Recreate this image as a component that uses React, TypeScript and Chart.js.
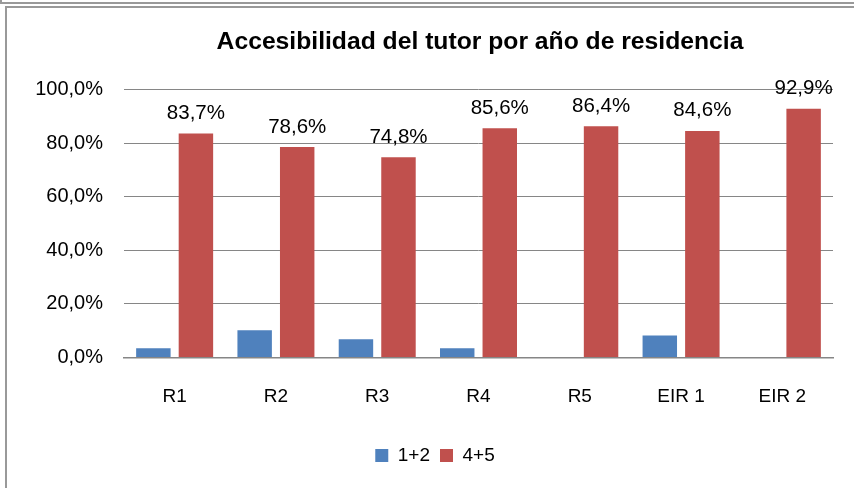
import React, { useEffect, useRef } from "react";
import { Chart, registerables } from "chart.js";

Chart.register(...registerables);

const categories = ["R1", "R2", "R3", "R4", "R5", "EIR 1", "EIR 2"];
const seriesNames = ["1+2", "4+5"];
const seriesLow = [3.5, 10.2, 6.8, 3.5, 0, 8.2, 0];
const seriesHigh = [83.7, 78.6, 74.8, 85.6, 86.4, 84.6, 92.9];
const yTicks = [0, 20, 40, 60, 80, 100];
const titleText = "Accesibilidad del tutor por año de residencia";

const FONT = "'Liberation Sans', Arial, sans-serif";
const fmt = (v: number) => v.toFixed(1).replace(".", ",") + "%";

const dataLabelPlugin = {
  id: "dataLabels",
  afterDatasetsDraw(chart: any) {
    const ctx = chart.ctx;
    const meta = chart.getDatasetMeta(1);
    ctx.save();
    ctx.font = `20.5px ${FONT}`;
    ctx.fillStyle = "#000000";
    ctx.textAlign = "center";
    ctx.textBaseline = "alphabetic";
    meta.data.forEach((bar: any, i: number) => {
      ctx.fillText(fmt(seriesHigh[i]), bar.x, bar.y - 14.5);
    });
    ctx.restore();
  },
};

const boxShiftPlugin = {
  id: "boxShift",
  afterLayout(chart: any) {
    const t = chart.titleBlock;
    if (t) {
      t.left += 60;
      t.right += 60;
    }
    const l = chart.legend;
    if (l) {
      l.left += 15;
      l.right += 15;
    }
  },
};

export default function App() {
  const ref = useRef<HTMLCanvasElement | null>(null);

  useEffect(() => {
    if (!ref.current) return;
    const chart = new Chart(ref.current, {
      type: "bar",
      data: {
        labels: categories,
        datasets: [
          {
            label: seriesNames[0],
            data: seriesLow,
            backgroundColor: "#4F81BD",
            categoryPercentage: 0.84,
            barPercentage: 0.81,
          },
          {
            label: seriesNames[1],
            data: seriesHigh,
            backgroundColor: "#C0504D",
            categoryPercentage: 0.84,
            barPercentage: 0.81,
          },
        ],
      },
      plugins: [dataLabelPlugin, boxShiftPlugin],
      options: {
        responsive: false,
        animation: false,
        devicePixelRatio: 1,
        layout: { padding: { left: 0, right: 21, top: 0, bottom: 13 } },
        plugins: {
          title: {
            display: true,
            text: titleText,
            color: "#000000",
            font: { family: FONT, size: 24.7, weight: "bold", lineHeight: 1.2 },
            padding: { top: 19.5, bottom: 32.6 },
          },
          legend: {
            display: true,
            position: "bottom",
            labels: {
              color: "#000000",
              font: { family: FONT, size: 19 },
              boxWidth: 13,
              boxHeight: 13,
              padding: 10,
            },
          },
          tooltip: { enabled: false },
        },
        scales: {
          x: {
            grid: { display: false, drawTicks: false },
            border: { display: true, color: "#868686", width: 1.5 },
            ticks: {
              color: "#000000",
              font: { family: FONT, size: 19 },
              padding: 28,
              maxRotation: 0,
            },
            afterFit: (s: any) => {
              s.height = 78.5;
            },
          },
          y: {
            min: 0,
            max: 100,
            grid: { color: "#868686", lineWidth: 1, drawTicks: false },
            border: { display: false },
            ticks: {
              color: "#000000",
              font: { family: FONT, size: 20 },
              padding: 21,
              callback: (v: any) => fmt(Number(v)),
            },
            afterBuildTicks: (s: any) => {
              s.ticks = yTicks.map((v) => ({ value: v }));
            },
            afterFit: (s: any) => {
              s.width = 117;
            },
          },
        },
      } as any,
    });
    return () => chart.destroy();
  }, []);

  return (
    <div
      style={{
        position: "fixed",
        left: 0,
        top: 0,
        width: 854,
        height: 488,
        overflow: "hidden",
        background: "#ffffff",
      }}
    >
      <div
        style={{
          position: "absolute",
          left: 0,
          top: 0,
          width: 900,
          height: 4,
          boxSizing: "border-box",
          borderLeft: "2px solid #999999",
          borderBottom: "2px solid #999999",
        }}
      />
      <div
        style={{
          position: "absolute",
          left: 5,
          top: 6,
          width: 900,
          height: 500,
          boxSizing: "border-box",
          borderLeft: "2px solid #999999",
          borderTop: "2px solid #999999",
        }}
      />
      <canvas
        ref={ref}
        width={847}
        height={480}
        style={{ position: "absolute", left: 7, top: 8, width: 847, height: 480 }}
      />
    </div>
  );
}
